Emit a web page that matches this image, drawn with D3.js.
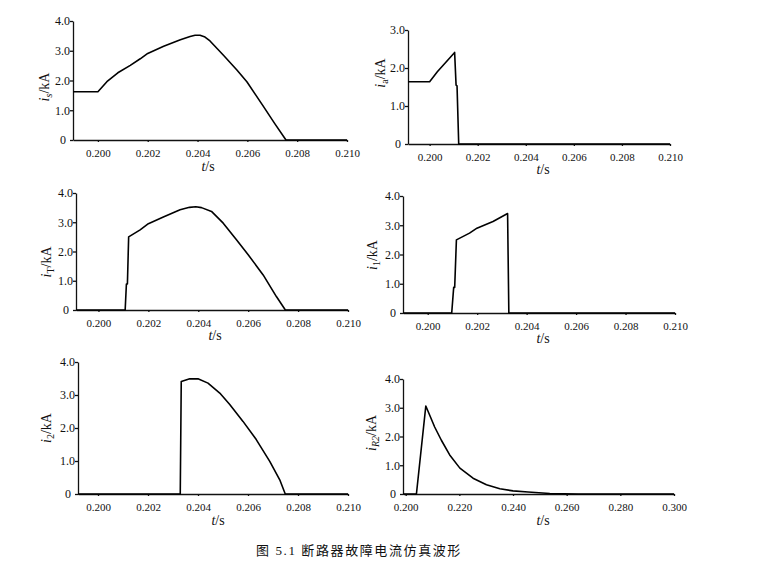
<!DOCTYPE html>
<html lang="zh">
  <head>
    <meta charset="utf-8" />
    <title>断路器故障电流仿真波形</title>
    <script src="https://d3js.org/d3.v7.min.js" charset="utf-8"></script>
    <style>
      body { margin: 0; background: #fff; }
      svg { font-family: "Liberation Serif", "Times New Roman", serif; }
      .axis path, .axis line { stroke: #111; stroke-width: 1.3; }
      .axis text { fill: #111; font-family: "Liberation Serif", serif; }
      .curve { fill: none; stroke: #000; stroke-width: 1.6; stroke-linejoin: round; }
      .caption { font-family: "Liberation Serif", "Noto Sans CJK SC", serif; }
    </style>
  </head>
  <body>
    <div id="chart"></div>
    <script>
      // tick labels
      const xTicksShort = [0.200, 0.202, 0.204, 0.206, 0.208, 0.210];
      const xTicksLong = [0.200, 0.220, 0.240, 0.260, 0.280, 0.300];
      const yTicks4 = [0, 1, 2, 3, 4];
      const yTicks3 = [0, 1, 2, 3];

      // i_s
      const tS = [0.199, 0.2000, 0.20036, 0.2008, 0.2013, 0.2017, 0.2020, 0.20264, 0.20331, 0.20370, 0.20390, 0.20410,
        0.20430, 0.20450, 0.20504, 0.20558, 0.20598, 0.20665, 0.20710, 0.20755, 0.210];
      const vS = [1.62, 1.62, 1.96, 2.26, 2.51, 2.73, 2.91, 3.15, 3.37, 3.48, 3.52, 3.52,
        3.46, 3.33, 2.85, 2.35, 1.96, 1.12, 0.55, 0, 0];

      // i_a
      const tA = [0.1991, 0.2000, 0.20032, 0.20104, 0.20110, 0.20114, 0.20121, 0.210];
      const vA = [1.64, 1.64, 1.90, 2.41, 1.55, 1.53, 0, 0];

      // i_T
      const tT = [0.1991, 0.20107, 0.20112, 0.20116, 0.20121, 0.20167, 0.2020, 0.2026, 0.20327, 0.20365, 0.2039, 0.20413,
        0.20453, 0.2050, 0.20553, 0.2060, 0.2066, 0.20713, 0.20749, 0.210];
      const vT = [0, 0, 0.89, 0.89, 2.50, 2.74, 2.95, 3.18, 3.43, 3.51, 3.53, 3.50,
        3.37, 2.97, 2.40, 1.89, 1.20, 0.46, 0, 0];

      // i_1
      const t1 = [0.1990, 0.20097, 0.20105, 0.20109, 0.20116, 0.20169, 0.20199, 0.20264, 0.20323, 0.20328, 0.210];
      const v1 = [0, 0, 0.875, 0.875, 2.50, 2.73, 2.90, 3.13, 3.40, 0, 0];

      // i_2
      const t2 = [0.1992, 0.20329, 0.20333, 0.20367, 0.2040, 0.2044, 0.20487, 0.20527, 0.2058, 0.20633, 0.20687,
        0.20727, 0.20749, 0.210];
      const v2 = [0, 0, 3.41, 3.49, 3.49, 3.36, 3.06, 2.71, 2.20, 1.65, 0.99, 0.43, 0, 0];

      // i_R2
      const tR = [0.199, 0.2040, 0.2075, 0.2090, 0.2108, 0.2133, 0.2164, 0.2202, 0.2251, 0.2301, 0.2351,
        0.2400, 0.2456, 0.2537, 0.2643, 0.300];
      const vR = [0, 0, 3.06, 2.73, 2.33, 1.87, 1.36, 0.90, 0.55, 0.32, 0.18,
        0.11, 0.07, 0.02, 0, 0];

      const width = 767, height = 563;

      const svg = d3.select("#chart").append("svg")
        .attr("width", width)
        .attr("height", height);

      // panel layout (pixel boxes)
      const panels = [
        { t: tS, v: vS, sub: "s", subItalic: true, xd: [0.199, 0.210], xr: [73, 347], yMax: 4, yr: [140, 21],
          xTicks: xTicksShort, yTicks: yTicks4, labX: 49, labY: 87, tsX: 208, tsY: 171 },
        { t: tA, v: vA, sub: "a", subItalic: false, xd: [0.1991, 0.210], xr: [408, 670], yMax: 3, yr: [144, 30],
          xTicks: xTicksShort, yTicks: yTicks3, labX: 385, labY: 73, tsX: 543, tsY: 174 },
        { t: tT, v: vT, sub: "T", subItalic: false, xd: [0.1991, 0.210], xr: [76, 348], yMax: 4, yr: [310, 193],
          xTicks: xTicksShort, yTicks: yTicks4, labX: 51, labY: 262, tsX: 215, tsY: 340 },
        { t: t1, v: v1, sub: "1", subItalic: false, xd: [0.199, 0.210], xr: [403, 675], yMax: 4, yr: [313, 196],
          xTicks: xTicksShort, yTicks: yTicks4, labX: 377, labY: 255, tsX: 543, tsY: 343 },
        { t: t2, v: v2, sub: "2", subItalic: false, xd: [0.1992, 0.210], xr: [78, 348], yMax: 4, yr: [494, 362],
          xTicks: xTicksShort, yTicks: yTicks4, labX: 51, labY: 428, tsX: 218, tsY: 525 },
        { t: tR, v: vR, sub: "R2", subItalic: true, xd: [0.199, 0.300], xr: [403, 674], yMax: 4, yr: [494, 379],
          xTicks: xTicksLong, yTicks: yTicks4, labX: 376, labY: 433, tsX: 543, tsY: 525 }
      ];

      panels.forEach((p) => {
        const x = d3.scaleLinear().domain(p.xd).range(p.xr);
        const y = d3.scaleLinear().domain([0, p.yMax]).range(p.yr);
        const g = svg.append("g");

        const xAxis = d3.axisBottom(x)
          .tickValues(p.xTicks)
          .tickFormat(d3.format(".3f"))
          .tickSize(2)
          .tickSizeOuter(0)
          .tickPadding(7);
        g.append("g").attr("class", "axis")
          .attr("transform", `translate(0,${p.yr[0]})`)
          .call(xAxis)
          .attr("font-family", null)
          .attr("font-size", 11);

        const yAxis = d3.axisLeft(y)
          .tickValues(p.yTicks)
          .tickFormat((d) => d === 0 ? "0" : d3.format(".1f")(d))
          .tickSize(3)
          .tickSizeOuter(0)
          .tickPadding(0);
        const gy = g.append("g").attr("class", "axis")
          .attr("transform", `translate(${p.xr[0]},0)`)
          .call(yAxis)
          .attr("font-family", null)
          .attr("font-size", 12);
        gy.selectAll("text").attr("x", (d) => d === 0 ? -7 : -3);

        const pts = p.t.map((t, i) => [t, p.v[i]]);
        const line = d3.line().x((d) => x(d[0])).y((d) => y(d[1]));
        g.append("path")
          .datum(pts)
          .attr("class", "curve")
          .attr("stroke-width", p.sub === "R2" ? 1.9 : 1.6)
          .attr("d", line);

        // y label
        const yl = g.append("text")
          .attr("transform", `translate(${p.labX},${p.labY}) rotate(-90)`)
          .attr("text-anchor", "middle")
          .attr("font-size", 14)
          .attr("fill", "#111");
        yl.append("tspan").attr("font-style", "italic").text("i");
        yl.append("tspan").attr("font-size", 10).attr("dy", 3)
          .attr("font-style", p.subItalic ? "italic" : "normal").text(p.sub);
        yl.append("tspan").attr("dy", -3).text("/kA");

        // x label
        const xl = g.append("text")
          .attr("x", p.tsX).attr("y", p.tsY)
          .attr("text-anchor", "middle")
          .attr("font-size", 14)
          .attr("fill", "#111");
        xl.append("tspan").attr("font-style", "italic").text("t");
        xl.append("tspan").text("/s");
      });

      svg.append("text")
        .attr("class", "caption")
        .attr("x", 256).attr("y", 555)
        .attr("font-size", 13)
        .attr("letter-spacing", 1.6)
        .attr("fill", "#111")
        .text("图 5.1 断路器故障电流仿真波形");
    </script>
  </body>
</html>
